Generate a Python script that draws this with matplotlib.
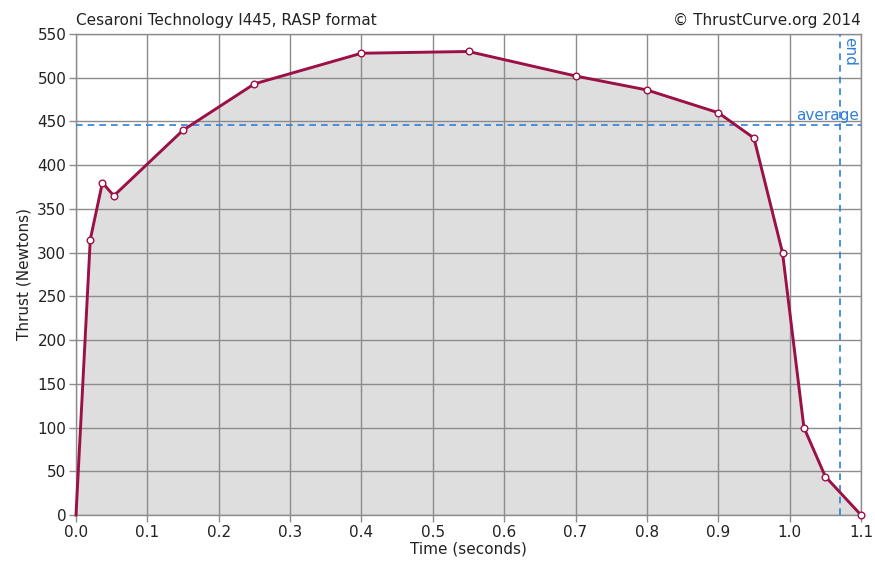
import matplotlib
matplotlib.use("Agg")
import matplotlib.pyplot as plt

time_s = [0.0, 0.02, 0.037, 0.053, 0.15, 0.25, 0.40, 0.55, 0.70, 0.80, 0.90, 0.95, 0.99, 1.02, 1.05, 1.10]
thrust_n = [0, 315, 380, 365, 440, 493, 528, 530, 502, 486, 460, 431, 300, 100, 44, 0]
average_thrust = 446
burn_end = 1.07

title_left = "Cesaroni Technology I445, RASP format"
title_right = "\u00a9 ThrustCurve.org 2014"
x_ticks = [0.0, 0.1, 0.2, 0.3, 0.4, 0.5, 0.6, 0.7, 0.8, 0.9, 1.0, 1.1]
y_ticks = list(range(0, 551, 50))

line_color = "#9b1046"
blue = "#2f7fd8"
grid_color = "#8c8c8c"

fig = plt.figure(figsize=(8.75, 5.66), dpi=100)
ax = fig.add_axes([76/875, 51/566, 785/875, 481/566])

ax.fill_between(time_s, thrust_n, 0, color="#dedede", zorder=1)
ax.plot(time_s, thrust_n, color=line_color, lw=2.1, zorder=4,
        marker="o", markersize=4.8, markerfacecolor="white",
        markeredgecolor=line_color, markeredgewidth=1.0, clip_on=False,
        markevery=list(range(1, len(time_s))))

ax.axhline(average_thrust, color=blue, lw=1.2, ls=(0, (4, 3)), zorder=3)
ax.axvline(burn_end, color=blue, lw=1.2, ls=(0, (4, 3)), zorder=3)
ax.text(1.097, average_thrust + 2, "average", color=blue, fontsize=11,
        ha="right", va="bottom", zorder=5)
ax.text(burn_end + 0.003, 546, "end", color=blue, fontsize=11,
        rotation=-90, ha="left", va="top", zorder=5)

ax.set_xlim(0, 1.1)
ax.set_ylim(0, 550)
ax.set_xticks(x_ticks)
ax.set_xticklabels([f"{v:.1f}" for v in x_ticks])
ax.set_yticks(y_ticks)
ax.grid(True, color=grid_color, lw=1.0, zorder=2)
ax.set_axisbelow(False)
for s in ax.spines.values():
    s.set_color(grid_color)
    s.set_linewidth(1.0)
ax.tick_params(axis="both", colors=grid_color, labelcolor="#222222",
               labelsize=11, length=5, width=1.0, pad=2)

ax.set_xlabel("Time (seconds)", fontsize=11, color="#222222", labelpad=1)
ax.set_ylabel("Thrust (Newtons)", fontsize=11, color="#222222", labelpad=4)

fig.text(76/875, 1 - 20/566, title_left, fontsize=11, color="#222222",
         ha="left", va="center")
fig.text(861/875, 1 - 20/566, title_right, fontsize=11, color="#222222",
         ha="right", va="center")

fig.savefig("out.png", dpi=100)
